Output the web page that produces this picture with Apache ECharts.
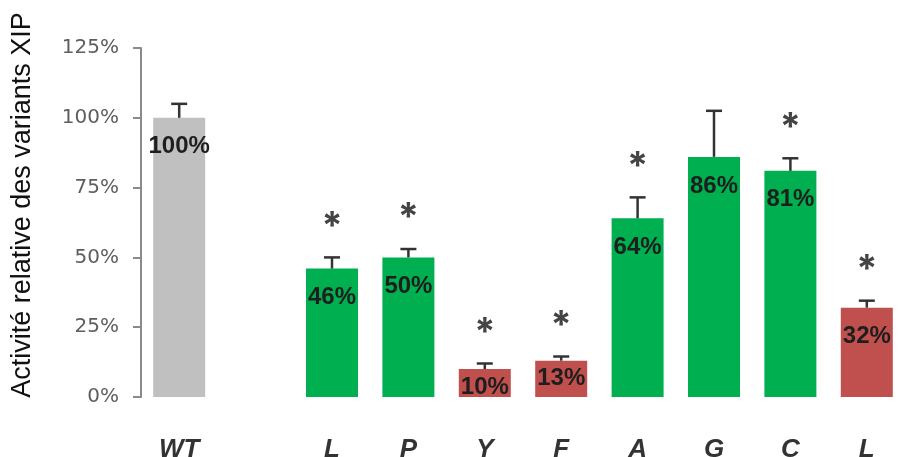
<!DOCTYPE html>
<html>
<head>
<meta charset="utf-8">
<script src="https://cdn.jsdelivr.net/npm/echarts@6/dist/echarts.min.js"></script>
<style>html,body{margin:0;padding:0;background:#fff;}#c{width:905px;height:457px;}</style>
</head>
<body>
<div id="c"></div>
<script>
const categories = ['WT', '', 'L', 'P', 'Y', 'F', 'A', 'G', 'C', 'L'];
const values     = [100, null, 46, 50, 10, 13, 64, 86, 81, 32];
const errorTops  = [105, null, 50, 53, 12, 14.5, 71.5, 102.5, 85.5, 34.5];
const significant = [false, false, true, true, true, true, true, false, true, true];
const groups     = ['wt', null, 'ok', 'ok', 'low', 'low', 'ok', 'ok', 'ok', 'low'];
const yTicks     = [0, 25, 50, 75, 100, 125];
const yTitle = 'Activité relative des variants XIP';

const groupColors = { wt: '#c0c0c0', ok: '#00b050', low: '#c0504d' };

const chart = echarts.init(document.getElementById('c'), null, { renderer: 'canvas' });

const barData = values.map((v, i) => {
  if (v === null) return { value: null };
  const short = v < 20;
  return {
    value: v,
    itemStyle: { color: groupColors[groups[i]] },
    label: { distance: short ? 6 : 17 }
  };
});

const errData = [];
values.forEach((v, i) => {
  if (v !== null) errData.push([i, v, errorTops[i], significant[i] ? 1 : 0]);
});

chart.setOption({
  animation: false,
  backgroundColor: '#ffffff',
  grid: { left: 141, right: 0, top: 48, bottom: 60, containLabel: false, outerBoundsMode: 'none' },
  xAxis: {
    type: 'category',
    data: categories,
    axisLine: { show: false },
    axisTick: { show: false },
    axisLabel: {
      margin: 40,
      fontFamily: 'Liberation Sans, Arial, sans-serif',
      fontSize: 26,
      fontWeight: 'bold',
      fontStyle: 'italic',
      color: '#333333',
      interval: 0
    }
  },
  yAxis: {
    type: 'value',
    min: yTicks[0],
    max: yTicks[yTicks.length - 1],
    interval: 25,
    splitLine: { show: false },
    axisLine: { show: true, lineStyle: { color: '#8a8a8a', width: 2 } },
    axisTick: { show: true, length: 8, lineStyle: { color: '#8a8a8a', width: 2 } },
    axisLabel: {
      margin: 22,
      formatter: '{value}%',
      fontFamily: 'DejaVu Sans, sans-serif',
      fontSize: 20,
      color: '#5e5e5e'
    }
  },
  graphic: [{
    type: 'text',
    x: 23,
    y: 205,
    rotation: Math.PI / 2,
    style: {
      text: yTitle,
      fontFamily: 'Liberation Sans, Arial, sans-serif',
      fontSize: 27,
      fill: '#111111',
      align: 'center',
      verticalAlign: 'middle'
    }
  }],
  series: [
    {
      type: 'bar',
      data: barData,
      barWidth: 52,
      label: {
        show: true,
        position: 'insideTop',
        formatter: '{c}%',
        fontFamily: 'Liberation Sans, Arial, sans-serif',
        fontSize: 24,
        fontWeight: 'bold',
        color: '#1e1e1e'
      },
      z: 2
    },
    {
      type: 'custom',
      data: errData,
      encode: { x: 0, y: [1, 2] },
      z: 3,
      renderItem: function (params, api) {
        const x = api.value(0);
        const base = api.coord([x, api.value(1)]);
        const top = api.coord([x, api.value(2)]);
        const cap = 8;
        const children = [
          { type: 'line', shape: { x1: base[0], y1: base[1], x2: top[0], y2: top[1] },
            style: { stroke: '#333333', lineWidth: 2.5 } },
          { type: 'line', shape: { x1: top[0] - cap, y1: top[1], x2: top[0] + cap, y2: top[1] },
            style: { stroke: '#333333', lineWidth: 2.5 } }
        ];
        if (api.value(3) === 1) {
          children.push({
            type: 'text',
            x: top[0],
            y: top[1] - 30,
            style: {
              text: '*',
              fontFamily: 'Inter, sans-serif',
              fontWeight: 'bold',
              fontSize: 38,
              fill: '#444444',
              align: 'center',
              verticalAlign: 'middle'
            }
          });
        }
        return { type: 'group', children: children };
      }
    }
  ]
});
</script>
</body>
</html>
